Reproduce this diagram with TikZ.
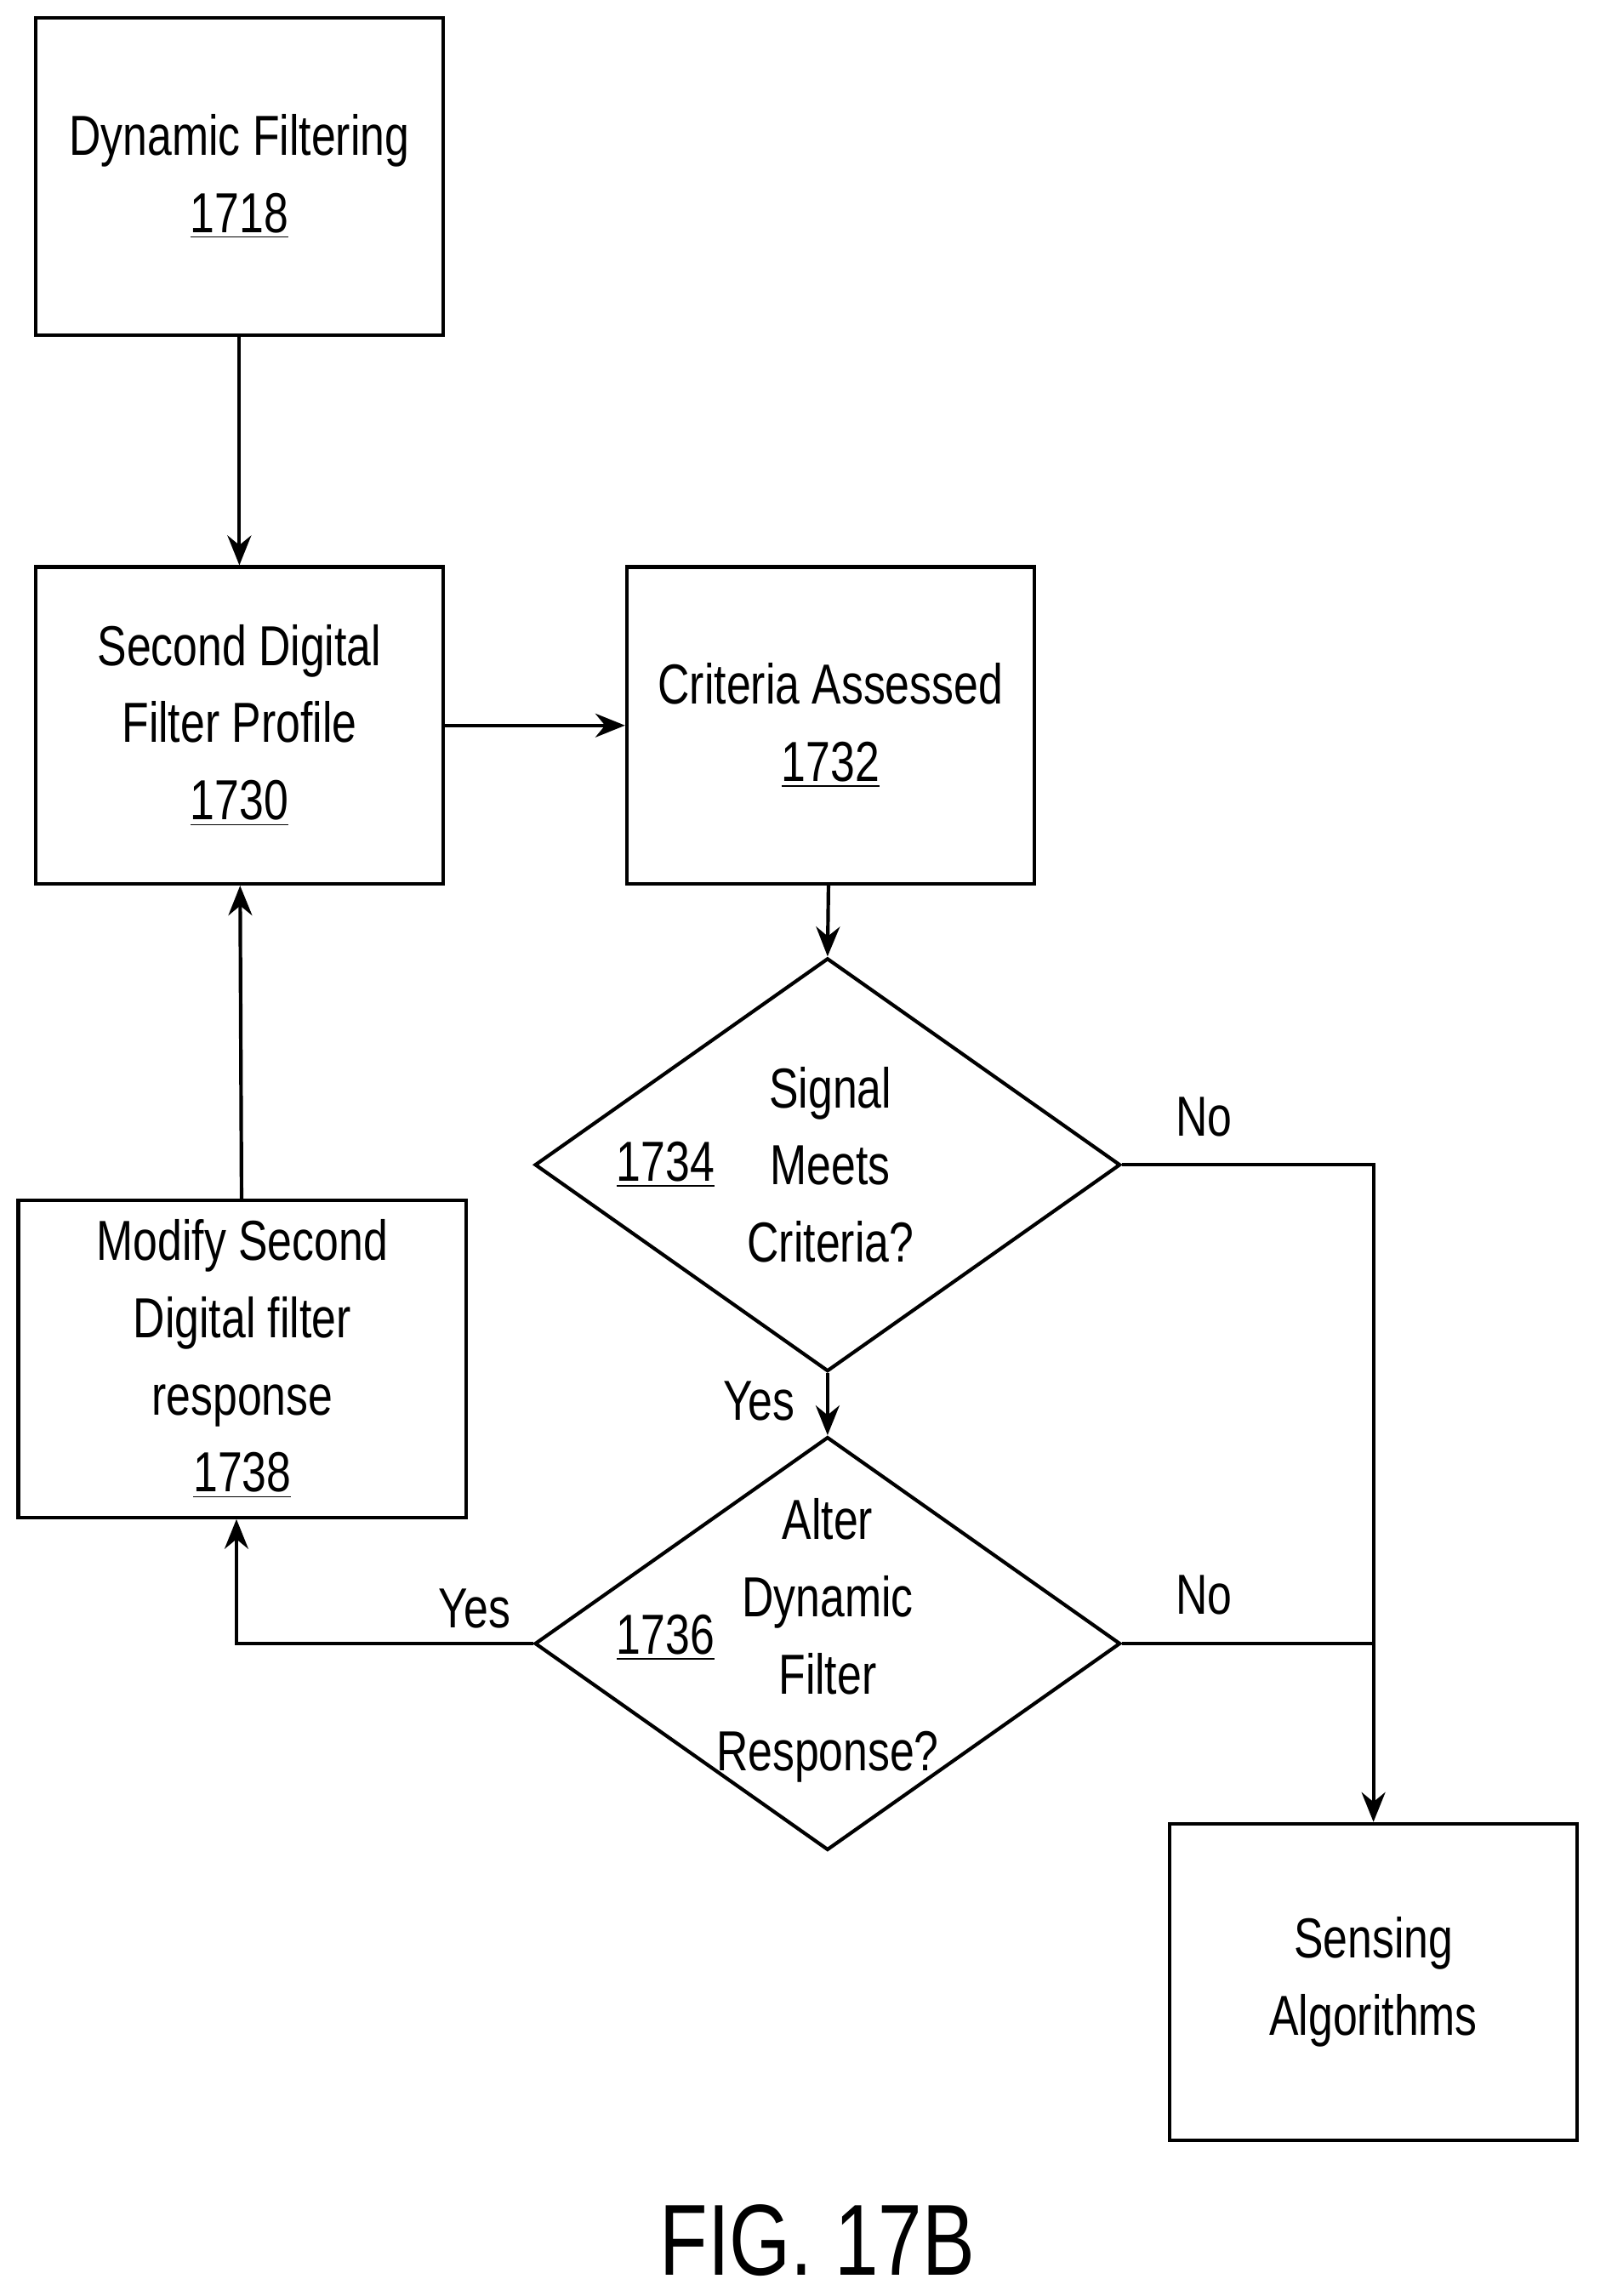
\documentclass[tikz,border=0pt]{standalone}
\usepackage{fontspec}
\setmainfont{Liberation Sans}[FakeStretch=0.78]
\usetikzlibrary{shapes.geometric,arrows.meta}
\tikzset{
	stage/.style = {draw=black, line width=1.2pt, minimum width=4.82cm, minimum height=3.75cm, align=center, inner sep=0pt},
	decide/.style = {diamond, draw=black, line width=1.2pt, minimum width=6.93cm, minimum height=4.89cm, inner sep=0pt},
	txt/.style = {align=center, font=\fontsize{19}{26}\selectfont},
	link/.style = {line width=1.2pt, -{Stealth[length=10pt,width=8pt]}},
	line/.style = {line width=1.2pt}
}
\begin{document}
\begin{tikzpicture}[x=0.01727cm, y=-0.01727cm, every node/.style={font=\fontsize{19}{26}\selectfont}]
		\useasboundingbox (0,0) rectangle (1100,1573);
		\node [stage] (dyn) at (164,121) {Dynamic Filtering\\\underline{1718}};
		\node [stage] (second) at (164,497) {Second Digital\\Filter Profile\\\underline{1730}};
		\node [stage] (crit) at (569,497) {Criteria Assessed\\\underline{1732}};
		\node [decide] (meets) at (567,798) {};
		\node [txt] (meetstxt) at (569,798) {Signal\\Meets\\Criteria?};
		\node [txt] (meetsnum) at (456,798) {\underline{1734}};
		\node [decide] (alter) at (567,1126) {};
		\node [txt] (altertxt) at (567,1124) {Alter\\Dynamic\\Filter\\Response?};
		\node [txt] (alternum) at (456,1122) {\underline{1736}};
		\node [stage, minimum width=5.30cm] (modify) at (166,931) {Modify Second\\Digital filter\\response\\\underline{1738}};
		\node [stage] (sense) at (941,1358) {Sensing\\Algorithms};
		\coordinate (noturn) at (941,798);
		\coordinate (join) at (941,1126);
		\coordinate (yesturn) at (162,1126);
		% connectors
		\draw [link] (dyn) -- (second);
		\draw [link] (modify) -- (second);
		\draw [link] (second) -- (crit);
		\draw [link] (crit) -- (meets.north);
		\draw [link] (meets.south) -- (alter.north);
		\draw [link] (meets.east) -- (noturn) -- (sense.north);
		\draw [line] (alter.east) -- (join);
		\draw [link] (alter.west) -- (yesturn) -- (modify.south -| yesturn);
		\node (no1) at (825,765) {No};
		\node (no2) at (825,1093) {No};
		\node (yes1) at (520,960) {Yes};
		\node (yes2) at (325,1102) {Yes};
		\node [font=\fontsize{34}{40}\selectfont] (fig) at (560,1535) {FIG. 17B};
\end{tikzpicture}
\end{document}
